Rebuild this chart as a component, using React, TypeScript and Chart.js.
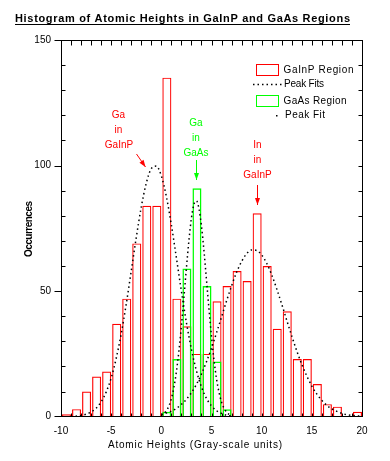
import React, { useEffect, useRef } from "react";
import { Chart, registerables } from "chart.js";

Chart.register(...registerables);

// ---- data ----
const gainpBins = [-10, -9, -8, -7, -6, -5, -4, -3, -2, -1, 0, 1, 2, 3, 4, 5, 6, 7, 8, 9, 10, 11, 12, 13, 14, 15, 16, 17, 18, 19];
const gainpCounts = [1, 3, 10, 16, 18, 37, 47, 69, 84, 84, 135, 47, 36, 25, 25, 46, 52, 58, 54, 81, 60, 35, 42, 23, 23, 13, 5, 4, 0, 2];

const gaasBins = [0, 1, 2, 3, 4, 5, 6];
const gaasCounts = [2, 23, 59, 91, 52, 22, 3];

const fitGaX = [-9, -8.5, -8, -7.5, -7, -6.5, -6, -5.5, -5, -4.5, -4, -3.5, -3, -2.5, -2, -1.5, -1, -0.5, 0, 0.5, 1, 1.5, 2, 2.5, 3, 3.5, 4, 4.5, 5, 5.5, 6, 6.5, 7];
const fitGaY = [0.1, 0.2, 0.5, 1.0, 1.9, 3.4, 5.9, 9.8, 15.4, 23.2, 33, 44.8, 58, 71.3, 83.5, 93, 98.8, 99.8, 95.9, 87.7, 76.4, 63.3, 50, 37.5, 26.8, 18.3, 11.8, 7.3, 4.3, 2.4, 1.3, 0.6, 0.3];

const fitInX = [0, 0.5, 1, 1.5, 2, 2.5, 3, 3.5, 4, 4.5, 5, 5.5, 6, 6.5, 7, 7.5, 8, 8.5, 9, 9.5, 10, 10.5, 11, 11.5, 12, 12.5, 13, 13.5, 14, 14.5, 15, 15.5, 16, 16.5, 17, 17.5, 18, 18.5, 19, 19.5, 20];
const fitInY = [0.9, 1.5, 2.2, 3.3, 4.9, 6.9, 9.6, 12.9, 17.0, 21.9, 27.3, 33.4, 39.7, 46.1, 52.1, 57.5, 61.8, 64.9, 66.4, 66.2, 64.4, 61.1, 56.5, 50.9, 44.8, 38.4, 32.1, 26.2, 20.8, 16.2, 12.2, 9.0, 6.5, 4.5, 3.1, 2.1, 1.3, 0.8, 0.5, 0.3, 0.2];

const fitGaAsX = [0, 0.25, 0.5, 0.75, 1, 1.25, 1.5, 1.75, 2, 2.25, 2.5, 2.75, 3, 3.25, 3.5, 3.75, 4, 4.25, 4.5, 4.75, 5, 5.25, 5.5, 5.75, 6, 6.25, 6.5, 6.75, 7];
const fitGaAsY = [0.6, 1.2, 2.4, 4.2, 7.2, 11.6, 17.9, 26.1, 36.1, 47.4, 59.2, 70.2, 79.1, 84.6, 85.9, 82.9, 75.9, 66.0, 54.5, 42.8, 31.9, 22.5, 15.1, 9.7, 5.8, 3.4, 1.8, 0.95, 0.5];

const xMin = -10;
const xMax = 20;
const xStep = 5;
const yMin = 0;
const yMax = 150;
const yStep = 50;

const titleText = "Histogram of Atomic Heights in GaInP and GaAs Regions";
const xTitleText = "Atomic Heights (Gray-scale units)";
const yTitleText = "Occurrences";
const legendLabels = ["GaInP Region", "Peak Fits", "GaAs Region", "Peak Fit"];

const BAR_OFFSET = 0.55;
const RED = "#ff0000";
const GREEN = "#00ff00";
const FONT = "'Liberation Sans', Arial, sans-serif";

function fitText(ctx: CanvasRenderingContext2D, text: string, left: number, y: number, width: number, font: string, color: string, baseline: CanvasTextBaseline = "middle") {
  ctx.font = font;
  ctx.fillStyle = color;
  ctx.textBaseline = baseline;
  ctx.textAlign = "left";
  (ctx as any).letterSpacing = "0px";
  const w0 = ctx.measureText(text).width;
  const ls = text.length > 1 ? (width - w0) / (text.length - 1) : 0;
  (ctx as any).letterSpacing = ls + "px";
  ctx.fillText(text, left, y);
  (ctx as any).letterSpacing = "0px";
}

function centerText(ctx: CanvasRenderingContext2D, text: string, cx: number, cy: number, font: string, color: string) {
  ctx.font = font;
  ctx.fillStyle = color;
  ctx.textBaseline = "middle";
  ctx.textAlign = "center";
  ctx.fillText(text, cx, cy);
}

function arrow(ctx: CanvasRenderingContext2D, x1: number, y1: number, x2: number, y2: number, color: string) {
  ctx.strokeStyle = color;
  ctx.fillStyle = color;
  ctx.lineWidth = 1;
  ctx.setLineDash([]);
  ctx.beginPath();
  ctx.moveTo(x1, y1);
  ctx.lineTo(x2, y2);
  ctx.stroke();
  const ang = Math.atan2(y2 - y1, x2 - x1);
  const len = 7;
  const half = 2.5;
  const bx = x2 - len * Math.cos(ang);
  const by = y2 - len * Math.sin(ang);
  ctx.beginPath();
  ctx.moveTo(x2, y2);
  ctx.lineTo(bx + half * Math.sin(ang), by - half * Math.cos(ang));
  ctx.lineTo(bx - half * Math.sin(ang), by + half * Math.cos(ang));
  ctx.closePath();
  ctx.fill();
}

const decorPlugin = {
  id: "decor",
  afterDraw(chart: any) {
    const { ctx, scales } = chart;
    const x = scales.x;
    const y = scales.y;
    const L = Math.round(x.getPixelForValue(xMin)) + 0.5;
    const R = Math.round(x.getPixelForValue(xMax)) + 0.5;
    const T = Math.round(y.getPixelForValue(yMax)) + 0.5;
    const B = Math.round(y.getPixelForValue(yMin)) - 0.5;
    ctx.save();
    ctx.strokeStyle = "#000";
    ctx.lineWidth = 1;
    ctx.setLineDash([]);
    ctx.strokeRect(L, T, R - L, B - T);
    ctx.beginPath();
    for (let v = xMin; v <= xMax; v++) {
      const px = Math.round(x.getPixelForValue(v)) + 0.5;
      ctx.moveTo(px, B);
      ctx.lineTo(px, B - 3);
      ctx.moveTo(px, T);
      ctx.lineTo(px, T + 5);
    }
    for (let v = yMin; v <= yMax; v += 10) {
      const py = Math.round(y.getPixelForValue(v)) + 0.5 - (v === 0 ? 1 : 0);
      ctx.moveTo(R, py);
      ctx.lineTo(R - 4, py);
      if (v % yStep === 0) {
        ctx.moveTo(L - 7, py);
        ctx.lineTo(L, py);
      } else {
        ctx.moveTo(L, py);
        ctx.lineTo(L + 4, py);
      }
    }
    ctx.stroke();

    // title
    fitText(ctx, titleText, 15, 22, 335, `bold 11px ${FONT}`, "#000", "alphabetic");
    ctx.fillStyle = "#000";
    ctx.fillRect(15, 24, 335, 1);

    // axis titles
    fitText(ctx, xTitleText, 108, 445, 174, `10px ${FONT}`, "#000");
    ctx.save();
    ctx.translate(29, 229);
    ctx.rotate(-Math.PI / 2);
    fitText(ctx, yTitleText, -28, 0, 56, `bold 10px ${FONT}`, "#000");
    ctx.restore();

    // legend
    ctx.lineWidth = 1;
    ctx.strokeStyle = RED;
    ctx.strokeRect(256.5, 64.5, 22, 11);
    fitText(ctx, legendLabels[0], 283.5, 70, 70, `10px ${FONT}`, "#000");
    ctx.strokeStyle = "#000";
    ctx.lineWidth = 1.5;
    ctx.setLineDash([1.5, 3]);
    ctx.beginPath();
    ctx.moveTo(253, 84.5);
    ctx.lineTo(282, 84.5);
    ctx.stroke();
    ctx.setLineDash([]);
    fitText(ctx, legendLabels[1], 284, 84.5, 40, `10px ${FONT}`, "#000");
    ctx.lineWidth = 1;
    ctx.strokeStyle = GREEN;
    ctx.strokeRect(256.5, 95.5, 22, 11);
    fitText(ctx, legendLabels[2], 283.5, 101, 63, `10px ${FONT}`, "#000");
    ctx.fillStyle = "#000";
    ctx.fillRect(276, 115, 1.5, 1.5);
    fitText(ctx, legendLabels[3], 285, 115.7, 40, `10px ${FONT}`, "#000");

    // annotations
    const af = `10px ${FONT}`;
    centerText(ctx, "Ga", 118.5, 115.5, af, RED);
    centerText(ctx, "in", 118.5, 130.5, af, RED);
    centerText(ctx, "GaInP", 119, 145.5, af, RED);
    arrow(ctx, 136.5, 154, 145.5, 167, RED);

    centerText(ctx, "Ga", 196, 123.5, af, GREEN);
    centerText(ctx, "in", 196, 138.5, af, GREEN);
    centerText(ctx, "GaAs", 196, 153, af, GREEN);
    arrow(ctx, 196.5, 160, 196.5, 180, GREEN);

    centerText(ctx, "In", 257.5, 145, af, RED);
    centerText(ctx, "in", 257.5, 160, af, RED);
    centerText(ctx, "GaInP", 257.5, 175, af, RED);
    arrow(ctx, 257.5, 185, 257.5, 205, RED);

    ctx.restore();
  },
};

export default function App() {
  const ref = useRef<HTMLCanvasElement>(null);
  useEffect(() => {
    if (!ref.current) return;
    const dotted = {
      type: "line" as const,
      borderColor: "#000",
      borderWidth: 1.5,
      borderDash: [1.5, 3],
      pointRadius: 0,
      fill: false,
      cubicInterpolationMode: "monotone" as const,
      order: 0,
    };
    const chart = new Chart(ref.current, {
      type: "bar",
      data: {
        datasets: [
          { ...dotted, label: "Peak Fits", data: fitGaX.map((v, i) => ({ x: v, y: fitGaY[i] })) },
          { ...dotted, label: "Peak Fits In", data: fitInX.map((v, i) => ({ x: v, y: fitInY[i] })) },
          { ...dotted, label: "Peak Fit", data: fitGaAsX.map((v, i) => ({ x: v, y: fitGaAsY[i] })) },
          {
            type: "bar",
            label: "GaAs Region",
            data: gaasBins.map((b, i) => ({ x: b + BAR_OFFSET, y: gaasCounts[i] })),
            backgroundColor: "rgba(0,0,0,0)",
            borderColor: GREEN,
            borderWidth: 1.5,
            grouped: false,
            barPercentage: 0.9,
            categoryPercentage: 1,
            order: 1,
          },
          {
            type: "bar",
            label: "GaInP Region",
            data: gainpBins.map((b, i) => ({ x: b + BAR_OFFSET, y: gainpCounts[i] })),
            backgroundColor: "rgba(0,0,0,0)",
            borderColor: RED,
            borderWidth: 1.2,
            grouped: false,
            barPercentage: 0.9,
            categoryPercentage: 1,
            order: 2,
          },
        ] as any,
      },
      options: {
        animation: false,
        responsive: false,
        devicePixelRatio: 1,
        events: [],
        layout: { padding: { left: 0, top: 40, right: 28, bottom: 0 } },
        plugins: { legend: { display: false }, tooltip: { enabled: false }, title: { display: false } },
        font: { family: FONT, size: 10 } as any,
        scales: {
          x: {
            type: "linear",
            min: xMin,
            max: xMax,
            offset: false,
            grid: { display: false, drawTicks: false },
            border: { display: false },
            ticks: { stepSize: xStep, color: "#000", padding: 9, font: { family: FONT, size: 10 }, maxRotation: 0 },
            afterFit: (s: any) => { s.height = 44.3; },
          },
          y: {
            type: "linear",
            min: yMin,
            max: yMax,
            grid: { display: false, drawTicks: false },
            border: { display: false },
            ticks: { stepSize: yStep, color: "#000", padding: 10, font: { family: FONT, size: 10 } },
            afterFit: (s: any) => { s.width = 61; },
          },
        },
      },
      plugins: [decorPlugin],
    });
    return () => chart.destroy();
  }, []);
  return (
    <div style={{ position: "absolute", left: 0, top: 0, width: 390, height: 461, background: "#fff" }}>
      <canvas ref={ref} width={390} height={461} style={{ display: "block", width: 390, height: 461 }} />
    </div>
  );
}
